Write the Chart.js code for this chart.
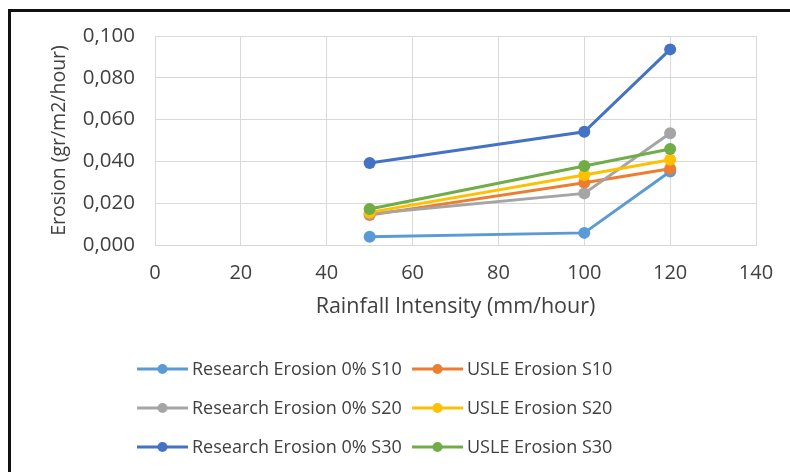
<!DOCTYPE html>
<html lang="en">

<head>
  <meta charset="UTF-8" />
  <script src="https://cdn.jsdelivr.net/npm/chart.js"></script>
  <title>Erosion vs Rainfall Intensity</title>
  <style>
    html, body { margin: 0; padding: 0; background: #fff; overflow: hidden; }
    .moldura {
      position: absolute; left: 8px; top: 9px; width: 900px; height: 600px;
      border-left: 3px solid #111; border-top: 3px solid #111;
    }
    .caixa { position: absolute; left: 0; top: 0; width: 790px; height: 472px; }
  </style>
</head>

<body>
  <div class="moldura"></div>
  <div class="caixa"><canvas id="grafico" width="790" height="472"></canvas></div>
</body>

</html>

<script>
  // intensidade de chuva (mm/hour)
  const intensidades = [50, 100, 120];

  const researchS10 = [0.0040, 0.0058, 0.0352];
  const usleS10 = [0.0143, 0.0298, 0.0365];
  const researchS20 = [0.0150, 0.0247, 0.0535];
  const usleS20 = [0.0156, 0.0335, 0.0408];
  const researchS30 = [0.0392, 0.0542, 0.0936];
  const usleS30 = [0.0172, 0.0378, 0.0459];

  const nomes = [
    "Research Erosion 0% S10", "USLE Erosion S10",
    "Research Erosion 0% S20", "USLE Erosion S20",
    "Research Erosion 0% S30", "USLE Erosion S30",
  ];
  const series = [researchS10, usleS10, researchS20, usleS20, researchS30, usleS30];
  const cores = ["#5B9BD5", "#ED7D31", "#A5A5A5", "#FFC000", "#4472C4", "#70AD47"];

  const xTicks = [0, 20, 40, 60, 80, 100, 120, 140];
  const yTicks = [0, 0.02, 0.04, 0.06, 0.08, 0.1];

  const fonte = "'Open Sans', sans-serif";
  const corTexto = "#404040";

  let datasets = [];
  for (let i = 0; i < series.length; i++) {
    datasets.push({
      label: nomes[i],
      data: intensidades.map((x, j) => ({ x: x, y: series[i][j] })),
      borderColor: cores[i],
      backgroundColor: cores[i],
      borderWidth: 3,
      pointRadius: 6,
      pointHoverRadius: 6,
      pointBorderWidth: 0,
      fill: false,
      order: series.length - i, // excel desenha a ultima serie por cima
    });
  }

  // legenda em grade 2x3 como no excel
  const legendaGrade = {
    id: "legendaGrade",
    afterDraw(chart) {
      const ctx = chart.ctx;
      const colunas = [137, 412];
      const linhas = [369, 408, 447];
      ctx.save();
      ctx.font = "18px " + fonte;
      ctx.textBaseline = "middle";
      ctx.textAlign = "left";
      chart.data.datasets.forEach((ds, i) => {
        const x = colunas[i % 2];
        const y = linhas[Math.floor(i / 2)];
        ctx.strokeStyle = ds.borderColor;
        ctx.lineWidth = 3;
        ctx.beginPath();
        ctx.moveTo(x, y);
        ctx.lineTo(x + 51, y);
        ctx.stroke();
        ctx.fillStyle = ds.borderColor;
        ctx.beginPath();
        ctx.arc(x + 25.5, y, 5, 0, Math.PI * 2);
        ctx.fill();
        ctx.fillStyle = corTexto;
        ctx.fillText(ds.label, x + 55, y + 1);
      });
      ctx.restore();
    },
  };

  const config = {
    type: "line",
    data: { datasets: datasets },
    options: {
      responsive: false,
      animation: false,
      events: [],
      layout: { padding: { left: 0, top: 36, right: 34, bottom: 137 } },
      scales: {
        x: {
          type: "linear",
          min: xTicks[0],
          max: xTicks[xTicks.length - 1],
          afterFit: (s) => { s.height = 90; },
          afterBuildTicks: (s) => { s.ticks = xTicks.map((v) => ({ value: v })); },
          grid: { color: "#d9d9d9", drawTicks: false },
          border: { color: "#d9d9d9" },
          ticks: { padding: 16, color: corTexto, font: { family: fonte, size: 20 } },
          title: {
            display: true,
            text: "Rainfall Intensity (mm/hour)",
            color: corTexto,
            font: { family: fonte, size: 21.5 },
            padding: { top: 0, bottom: 15 },
          },
        },
        y: {
          min: yTicks[0],
          max: yTicks[yTicks.length - 1],
          afterFit: (s) => { s.width = 155; },
          afterBuildTicks: (s) => { s.ticks = yTicks.map((v) => ({ value: v })); },
          grid: { color: "#d9d9d9", drawTicks: false },
          border: { color: "#d9d9d9" },
          ticks: {
            padding: 20,
            color: corTexto,
            font: { family: fonte, size: 20.5 },
            callback: (v) => v.toFixed(3).replace(".", ","),
          },
          title: {
            display: true,
            text: "Erosion (gr/m2/hour)",
            color: corTexto,
            font: { family: fonte, size: 19.5 },
            padding: { top: 48, bottom: 0 },
          },
        },
      },
      plugins: {
        legend: { display: false },
        tooltip: { enabled: false },
      },
    },
    plugins: [legendaGrade],
  };

  let myChart = new Chart(document.getElementById("grafico").getContext("2d"), config);
</script>
